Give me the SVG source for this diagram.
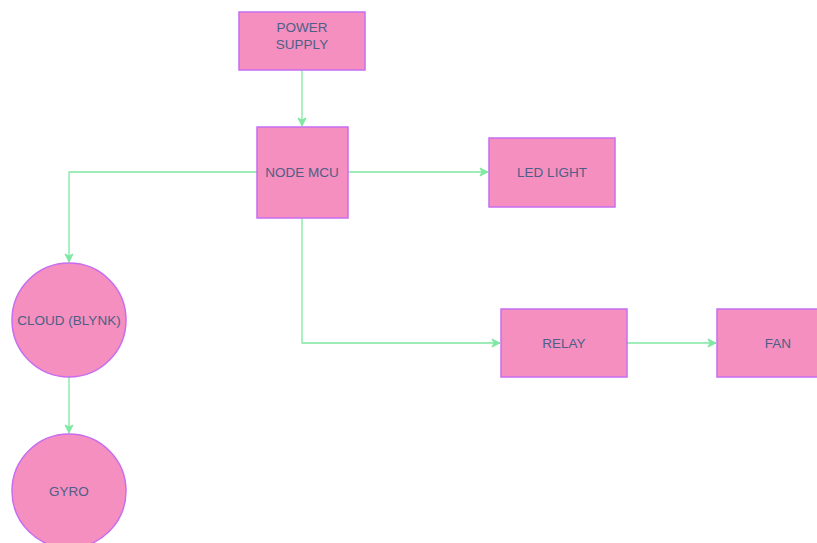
<svg xmlns="http://www.w3.org/2000/svg" width="817" height="543" viewBox="0 0 817 543">
<defs>
<marker id="arr" markerWidth="10" markerHeight="10" refX="9" refY="5" orient="auto" markerUnits="userSpaceOnUse">
<path d="M1,1 L9,5 L1,9 L3,5 Z" fill="#7fe8a2" stroke="#7fe8a2" stroke-width="1"/>
</marker>
<style>
.n{fill:#f48fbf;stroke:#c86cf0;stroke-width:1.5}
.t{font-family:"Liberation Sans",Arial,sans-serif;font-size:13.5px;fill:#4d5f86;text-anchor:middle;dominant-baseline:central}
.e{fill:none;stroke:#7fe8a2;stroke-width:1.3;marker-end:url(#arr)}
</style>
</defs>
<rect width="817" height="543" fill="#ffffff"/>
<g id="connectors">
<path class="e" d="M302,70 L302,126"/>
<path class="e" d="M257,172 L69,172 L69,262"/>
<path class="e" d="M348,172 L488,172"/>
<path class="e" d="M302,218 L302,343 L500,343"/>
<path class="e" d="M627,343 L716,343"/>
<path class="e" d="M69,377 L69,433"/>
</g>
<g id="power-supply">
<rect class="n" x="239" y="12" width="126" height="58"/>
<text class="t" x="302" y="27">POWER</text>
<text class="t" x="302" y="44">SUPPLY</text>
</g>
<g id="node-mcu">
<rect class="n" x="257" y="127" width="91" height="91"/>
<text class="t" x="302" y="172">NODE MCU</text>
</g>
<g id="led-light">
<rect class="n" x="489" y="138" width="126" height="69"/>
<text class="t" x="552" y="172">LED LIGHT</text>
</g>
<g id="cloud">
<circle class="n" cx="69" cy="320" r="57"/>
<text class="t" x="69" y="320">CLOUD (BLYNK)</text>
</g>
<g id="gyro">
<circle class="n" cx="69" cy="491" r="57"/>
<text class="t" x="69" y="491">GYRO</text>
</g>
<g id="relay">
<rect class="n" x="501" y="309" width="126" height="68"/>
<text class="t" x="564" y="343">RELAY</text>
</g>
<g id="fan">
<rect class="n" x="717" y="309" width="126" height="68"/>
<text class="t" x="778" y="343">FAN</text>
</g>
</svg>
